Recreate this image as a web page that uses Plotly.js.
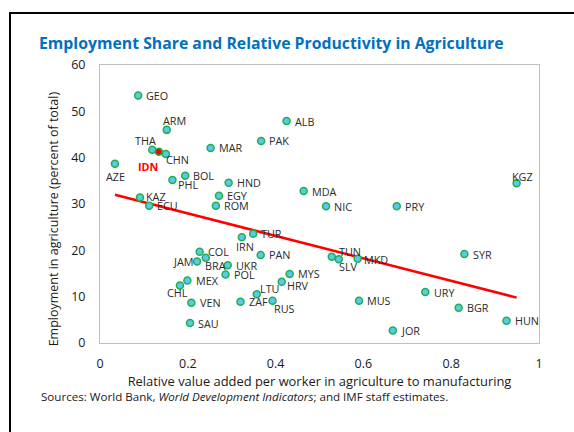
<!DOCTYPE html>
<html>
<head>
<meta charset="utf-8">
<script src="https://cdn.plot.ly/plotly-3.0.1.min.js"></script>
<style>
  html, body { margin: 0; padding: 0; background: #ffffff; overflow: hidden; }
  #wrap { position: relative; width: 574px; height: 432px; }
  #chart { position: absolute; left: 0; top: 0; width: 574px; height: 432px; }
  #frame { position: absolute; left: 9px; top: 12px; width: 700px; height: 600px;
           border-left: 2px solid #000; border-top: 2px solid #000; pointer-events: none; z-index: 10; }
</style>
</head>
<body>
<div id="wrap">
  <div id="chart"></div>
  <div id="frame"></div>
</div>
<script>
// ---- Data ----
const countries = ["GEO","ARM","THA","CHN","MAR","PAK","ALB","AZE","BOL","PHL","HND","KAZ","ECU","EGY","ROM",
                   "MDA","NIC","PRY","KGZ","IRN","TUR","COL","JAM","BRA","UKR","PAN","POL","MEX","CHL","VEN",
                   "SAU","LTU","ZAF","RUS","HRV","MYS","TUN","SLV","MKD","SYR","URY","MUS","BGR","JOR","HUN"];
const relProductivity = [0.087,0.152,0.119,0.150,0.252,0.367,0.425,0.034,0.194,0.165,0.293,0.091,0.112,0.271,0.264,
                   0.464,0.515,0.676,0.949,0.323,0.349,0.227,0.221,0.241,0.291,0.366,0.286,0.199,0.182,0.208,
                   0.205,0.357,0.320,0.393,0.414,0.432,0.528,0.544,0.587,0.830,0.741,0.590,0.817,0.667,0.926];
const employmentShare = [53.4,46.0,41.7,40.8,42.1,43.6,47.9,38.7,36.1,35.2,34.6,31.4,29.6,31.8,29.6,
                   32.8,29.5,29.5,34.5,22.8,23.6,19.7,17.6,18.4,16.8,19.0,14.8,13.5,12.4,8.7,
                   4.3,10.5,8.9,9.1,13.2,14.9,18.6,18.1,18.2,19.2,11.0,9.1,7.6,2.7,4.8];

const highlightCountry = ["IDN"];
const highlightX = [0.134];
const highlightY = [41.3];

// fitted line end points
const fitX = [0.034, 0.949];
const fitY = [32.0, 9.8];

const xTickVals = [0, 0.2, 0.4, 0.6, 0.8, 1];
const xTickText = ["0", "0.2", "0.4", "0.6", "0.8", "1"];
const yTickVals = [0, 10, 20, 30, 40, 50, 60];
const yTickText = ["0", "10", "20", "30", "40", "50", "60"];

// ---- Label placement (style): [anchor, x offset px, y offset px] ----
const defaultLabel = ["left", 6.2, 0];
const labelStyle = {
  ARM: ["center", 7.7, 9.3], THA: ["center", -6.3, 9], CHN: ["left", -1.5, -6],
  AZE: ["center", 1, -12.6], PHL: ["left", 4, -5], KAZ: ["left", 4.5, 1],
  KGZ: ["center", 6, 6.6], IRN: ["center", 3, -9.4], JAM: ["right", -2.5, 0],
  BRA: ["left", -2.5, -7.7], CHL: ["center", -2.3, -7], LTU: ["left", 1.5, 6],
  RUS: ["left", -0.5, -8], HRV: ["left", 3.2, -3.6], TUN: ["left", 5, 5.3],
  SLV: ["left", -1.5, -7.4], MKD: ["left", 4, -0.6], IDN: ["right", 1.5, -15]
};

const FONT = "'Open Sans', 'Noto Sans', sans-serif";
const LABEL_SIZE = 10.8;

function labelAnn(name, x, y, color, bold) {
  const s = labelStyle[name] || defaultLabel;
  return {
    xref: "x", yref: "y", x: x, y: y, showarrow: false,
    text: bold ? "<b>" + name + "</b>" : name,
    xanchor: s[0], yanchor: "middle", xshift: s[1], yshift: s[2],
    font: { family: FONT, size: LABEL_SIZE, color: color }
  };
}

const labelAnns = countries.map((c, i) => labelAnn(c, relProductivity[i], employmentShare[i], "#2b2b2b", false))
  .concat(highlightCountry.map((c, i) => labelAnn(c, highlightX[i], highlightY[i], "#FF0000", true)));

const traces = [
  {
    x: fitX, y: fitY, type: "scatter", mode: "lines",
    line: { color: "#FF0000", width: 2.5 }, hoverinfo: "skip", showlegend: false
  },
  {
    x: relProductivity, y: employmentShare, text: countries, type: "scatter", mode: "markers",
    marker: { size: 7, color: "#5CC8E8", line: { color: "#1FAF4F", width: 1.5 } },
    showlegend: false, cliponaxis: false
  },
  {
    x: highlightX, y: highlightY, text: highlightCountry,
    type: "scatter", mode: "markers",
    marker: { size: 7, color: "#FF0000", line: { color: "#1FAF4F", width: 1.5 } },
    showlegend: false, cliponaxis: false
  }
];

const layout = {
  width: 574, height: 432,
  margin: { l: 100, r: 35, t: 65, b: 89 },
  paper_bgcolor: "#ffffff", plot_bgcolor: "#ffffff",
  font: { family: FONT, size: 12.5, color: "#1a1a1a" },
  title: {
    text: "Employment Share and Relative Productivity in Agriculture",
    font: { family: FONT, size: 15.8, color: "#0070C0", weight: "bold" },
    x: 39 / 574, xanchor: "left", xref: "container",
    y: 1 - 43 / 432, yanchor: "middle", yref: "container"
  },
  xaxis: {
    range: [0, 1], tickvals: xTickVals, ticktext: xTickText,
    showgrid: false, zeroline: false, showline: true, mirror: true, linecolor: "#BFBFBF", linewidth: 1,
    ticks: "outside", ticklen: 9, tickcolor: "rgba(0,0,0,0)",
    tickfont: { family: FONT, size: 12.5, color: "#1a1a1a" },
    title: { text: "Relative value added per worker in agriculture to manufacturing",
             font: { family: FONT, size: 12.9, color: "#1a1a1a" }, standoff: 3 }
  },
  yaxis: {
    range: [0, 60], tickvals: yTickVals, ticktext: yTickText,
    showgrid: false, zeroline: false, showline: true, mirror: true, linecolor: "#BFBFBF", linewidth: 1,
    ticks: "outside", ticklen: 11, tickcolor: "rgba(0,0,0,0)",
    tickfont: { family: FONT, size: 12.5, color: "#1a1a1a" }
  },
  annotations: labelAnns.concat([
    {
      text: "Employment in agriculture (percent of total)", textangle: -90,
      xref: "paper", yref: "paper", x: 0, y: (343 - 219.5) / 277.7, xshift: -47,
      xanchor: "center", yanchor: "middle", showarrow: false,
      font: { family: FONT, size: 12.5, color: "#1a1a1a" }
    },
    {
      text: "Sources: World Bank, <i>World Development Indicators</i>; and IMF staff estimates.",
      xref: "paper", yref: "paper", x: (39 - 100) / 439, y: (343 - 396) / 277.7,
      xanchor: "left", yanchor: "middle", showarrow: false,
      font: { family: FONT, size: 11.6, color: "#1a1a1a" }
    }
  ])
};

Plotly.newPlot("chart", traces, layout, { displayModeBar: false, staticPlot: true });
</script>
</body>
</html>
